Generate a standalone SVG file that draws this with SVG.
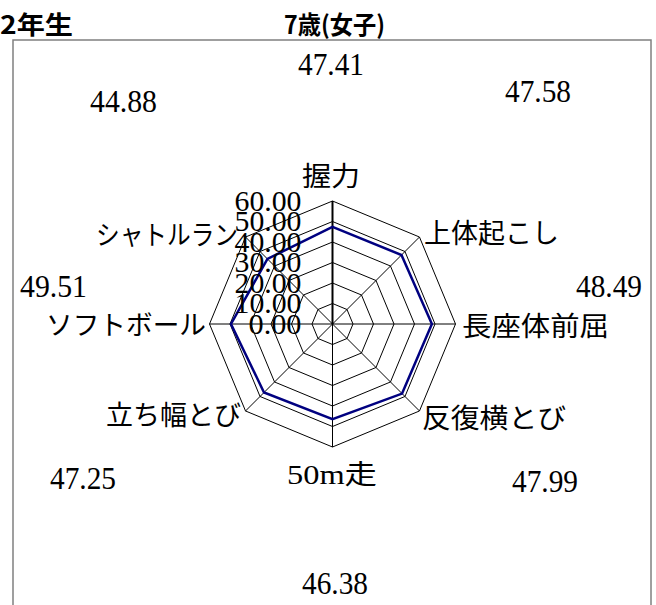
<svg xmlns="http://www.w3.org/2000/svg" width="656" height="605" viewBox="0 0 656 605">
<style>
.title{font-family:"Noto Sans CJK JP","Liberation Sans",sans-serif;font-weight:bold;font-size:25px;fill:#000}
.num{font-family:'Liberation Serif','DejaVu Serif',serif;font-size:31px;fill:#000}
.tick{font-family:'Liberation Serif','DejaVu Serif',serif;font-size:29px;fill:#000}
.lab{font-family:'Liberation Serif','Noto Sans CJK JP',serif;font-size:27px;fill:#000}
.ring{fill:none;stroke:#000;stroke-width:1}
.spoke{stroke:#000;stroke-width:1}
.series{fill:none;stroke:#000080;stroke-width:2.5;stroke-linejoin:miter}
</style>
<rect width="656" height="605" fill="#fff"/>
<text class="title" x="0" y="34" textLength="73" lengthAdjust="spacingAndGlyphs">2年生</text>
<text class="title" x="284" y="34" textLength="101" lengthAdjust="spacingAndGlyphs">7歳(女子)</text>
<rect x="13" y="40" width="638" height="600" fill="#fff" stroke="#808080" stroke-width="1.5"/>
<g id="grid">
<polygon class="ring" points="332.5,303.5 347,309.5 353,324 347,338.5 332.5,344.5 318,338.5 312,324 318,309.5"/>
<polygon class="ring" points="332.5,283 361.49,295.01 373.5,324 361.49,352.99 332.5,365 303.51,352.99 291.5,324 303.51,295.01"/>
<polygon class="ring" points="332.5,262.5 375.99,280.51 394,324 375.99,367.49 332.5,385.5 289.01,367.49 271,324 289.01,280.51"/>
<polygon class="ring" points="332.5,242 390.48,266.02 414.5,324 390.48,381.98 332.5,406 274.52,381.98 250.5,324 274.52,266.02"/>
<polygon class="ring" points="332.5,221.5 404.98,251.52 435,324 404.98,396.48 332.5,426.5 260.02,396.48 230,324 260.02,251.52"/>
<polygon class="ring" points="332.5,201 419.47,237.03 455.5,324 419.47,410.97 332.5,447 245.53,410.97 209.5,324 245.53,237.03"/>
</g>
<g id="connectors">
<line class="spoke" x1="332.5" y1="324" x2="419.47" y2="237.03"/>
<line class="spoke" x1="332.5" y1="324" x2="455.5" y2="324"/>
<line class="spoke" x1="332.5" y1="324" x2="419.47" y2="410.97"/>
<line class="spoke" x1="332.5" y1="324" x2="332.5" y2="447"/>
<line class="spoke" x1="332.5" y1="324" x2="245.53" y2="410.97"/>
<line class="spoke" x1="332.5" y1="324" x2="209.5" y2="324"/>
<line class="spoke" x1="332.5" y1="324" x2="245.53" y2="237.03"/>
<line x1="332.5" y1="324" x2="332.5" y2="201" stroke="#000" stroke-width="2"/>
<polygon id="series" class="series" points="332.5,226.81 401.47,255.03 431.9,324 402.07,393.57 332.5,419.08 264.01,392.49 231,324 267.44,258.94"/>
</g>
<g id="ticks">
<text class="tick" x="301.5" y="210.5" text-anchor="end" textLength="67" lengthAdjust="spacingAndGlyphs">60.00</text>
<text class="tick" x="301.5" y="231" text-anchor="end" textLength="67" lengthAdjust="spacingAndGlyphs">50.00</text>
<text class="tick" x="301.5" y="251.5" text-anchor="end" textLength="67" lengthAdjust="spacingAndGlyphs">40.00</text>
<text class="tick" x="301.5" y="272" text-anchor="end" textLength="67" lengthAdjust="spacingAndGlyphs">30.00</text>
<text class="tick" x="301.5" y="292.5" text-anchor="end" textLength="67" lengthAdjust="spacingAndGlyphs">20.00</text>
<text class="tick" x="301.5" y="313" text-anchor="end" textLength="67" lengthAdjust="spacingAndGlyphs">10.00</text>
<text class="tick" x="301.5" y="333.5" text-anchor="end" textLength="53" lengthAdjust="spacingAndGlyphs">0.00</text>
</g>
<g id="n-grip"><text class="lab" x="302" y="186" textLength="58" lengthAdjust="spacingAndGlyphs">握力</text><text class="num" x="298" y="75" textLength="66" lengthAdjust="spacingAndGlyphs">47.41</text></g>
<g id="n-situp"><text class="lab" x="424" y="243" textLength="135" lengthAdjust="spacingAndGlyphs">上体起こし</text><text class="num" x="505" y="102" textLength="66" lengthAdjust="spacingAndGlyphs">47.58</text></g>
<g id="n-sitreach"><text class="lab" x="462" y="336" textLength="147" lengthAdjust="spacingAndGlyphs">長座体前屈</text><text class="num" x="576" y="297" textLength="66" lengthAdjust="spacingAndGlyphs">48.49</text></g>
<g id="n-sidestep"><text class="lab" x="422" y="428" textLength="144" lengthAdjust="spacingAndGlyphs">反復横とび</text><text class="num" x="512" y="492" textLength="66" lengthAdjust="spacingAndGlyphs">47.99</text></g>
<g id="n-50m"><text class="lab" x="287" y="484" textLength="90" lengthAdjust="spacingAndGlyphs">50m走</text><text class="num" x="302" y="594" textLength="66" lengthAdjust="spacingAndGlyphs">46.38</text></g>
<g id="n-jump"><text class="lab" x="106" y="425" textLength="135" lengthAdjust="spacingAndGlyphs">立ち幅とび</text><text class="num" x="50" y="489" textLength="66" lengthAdjust="spacingAndGlyphs">47.25</text></g>
<g id="n-ball"><text class="lab" x="46" y="335" textLength="160" lengthAdjust="spacingAndGlyphs">ソフトボール</text><text class="num" x="20" y="297" textLength="67" lengthAdjust="spacingAndGlyphs">49.51</text></g>
<g id="n-shuttle"><text class="lab" x="96" y="245" textLength="142" lengthAdjust="spacingAndGlyphs">シャトルラン</text><text class="num" x="90" y="112" textLength="67" lengthAdjust="spacingAndGlyphs">44.88</text></g>
</svg>
